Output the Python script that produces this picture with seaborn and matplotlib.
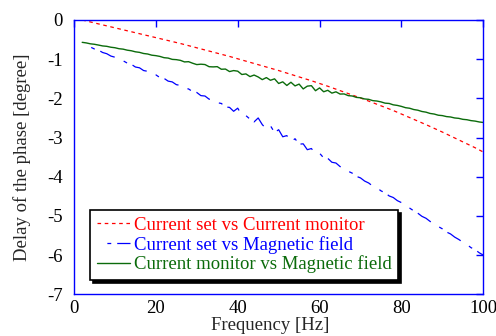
import numpy as np
import pandas as pd
import matplotlib
matplotlib.use("Agg")
import matplotlib.pyplot as plt
import seaborn as sns

# ---------------- data ----------------
freq = list(range(2, 101))

freq_red = [2, 6, 10, 14, 18, 22, 26, 30, 34, 38, 42, 46, 50, 54, 58, 62,
            66, 70, 74, 78, 82, 86, 90, 94, 98, 100]
set_vs_monitor = [0.00, -0.10, -0.20, -0.30, -0.40, -0.50, -0.60, -0.71, -0.82,
                  -0.93, -1.05, -1.17, -1.29, -1.42, -1.55, -1.69, -1.84, -1.99,
                  -2.15, -2.31, -2.49, -2.67, -2.86, -3.06, -3.26, -3.37]

set_vs_field = [
    -0.60, -0.65, -0.69, -0.74, -0.77, -0.83, -0.86, -0.92, -0.95, -1.01,
    -1.04, -1.10, -1.13, -1.20, -1.22, -1.29, -1.31, -1.38, -1.40, -1.47,
    -1.49, -1.56, -1.58, -1.65, -1.67, -1.74, -1.76, -1.83, -1.85, -1.93,
    -1.94, -2.02, -2.04, -2.11, -2.13, -2.22, -2.23, -2.33, -2.25, -2.43,
    -2.44, -2.53, -2.60, -2.50, -2.67, -2.78, -2.70, -2.87, -2.80, -2.98,
    -2.95, -3.11, -3.03, -3.17, -3.16, -3.31, -3.28, -3.41, -3.40, -3.52,
    -3.53, -3.63, -3.65, -3.74, -3.78, -3.86, -3.91, -3.99, -4.03, -4.11,
    -4.16, -4.24, -4.28, -4.36, -4.41, -4.49, -4.53, -4.61, -4.66, -4.74,
    -4.80, -4.87, -4.93, -5.01, -5.06, -5.14, -5.20, -5.27, -5.33, -5.41,
    -5.46, -5.54, -5.60, -5.67, -5.73, -5.81, -5.86, -5.94, -6.00]

monitor_vs_field = [
    -0.570, -0.585, -0.608, -0.620, -0.640, -0.662, -0.672, -0.695, -0.708, -0.733,
    -0.744, -0.770, -0.785, -0.812, -0.826, -0.855, -0.868, -0.898, -0.910, -0.930,
    -0.962, -0.972, -1.005, -1.012, -1.030, -1.070, -1.064, -1.104, -1.138, -1.128,
    -1.137, -1.192, -1.197, -1.191, -1.257, -1.252, -1.316, -1.291, -1.306, -1.391,
    -1.376, -1.445, -1.405, -1.454, -1.522, -1.470, -1.538, -1.502, -1.620, -1.578,
    -1.671, -1.589, -1.682, -1.636, -1.759, -1.688, -1.676, -1.805, -1.733, -1.832,
    -1.794, -1.866, -1.833, -1.890, -1.887, -1.930, -1.940, -1.975, -1.985, -2.015,
    -2.025, -2.058, -2.068, -2.090, -2.122, -2.130, -2.165, -2.180, -2.205, -2.238,
    -2.252, -2.285, -2.302, -2.335, -2.352, -2.385, -2.400, -2.430, -2.440, -2.465,
    -2.475, -2.500, -2.510, -2.535, -2.545, -2.568, -2.580, -2.602, -2.615]

labels = ["Current set vs Current monitor",
          "Current set vs Magnetic field",
          "Current monitor vs Magnetic field"]
xticks = [0, 20, 40, 60, 80, 100]
yticks = [0, -1, -2, -3, -4, -5, -6, -7]

# ---------------- style ----------------
sns.set_style("white")
plt.rcParams["font.family"] = ["Liberation Serif", "DejaVu Serif"]
plt.rcParams["axes.unicode_minus"] = False
plt.rcParams["lines.scale_dashes"] = False

fig = plt.figure(figsize=(4.96, 3.36), dpi=100)
ax = fig.add_axes([0.1492, 0.1241, 0.8252, 0.8164])

df_red = pd.DataFrame({"f": freq_red, "v": set_vs_monitor})
df_blue = pd.DataFrame({"f": freq, "v": set_vs_field})
df_green = pd.DataFrame({"f": freq, "v": monitor_vs_field})

sns.lineplot(data=df_red, x="f", y="v", ax=ax, color="#ff0000", lw=0.9,
             linestyle=(0, (2.6, 2.6)), label=labels[0])
sns.lineplot(data=df_blue, x="f", y="v", ax=ax, color="#0000ff", lw=0.9,
             linestyle=(18.4, (2.8, 4.3, 11.3, 7.1)), label=labels[1])
sns.lineplot(data=df_green, x="f", y="v", ax=ax, color="#0b6b0b", lw=1.0,
             linestyle="-", label=labels[2])

ax.set_xlim(0, 100)
ax.set_ylim(-7, 0)
ax.set_xticks(xticks)
ax.set_yticks(yticks)
ax.set_xticklabels([str(t) for t in xticks])
ax.set_yticklabels([str(t) for t in yticks])

for sp in ax.spines.values():
    sp.set_color("#0000ff")
    sp.set_linewidth(1.0)
    sp.set_visible(True)

ax.tick_params(axis="both", which="major", direction="in", length=5, width=1,
               color="#0000ff", labelsize=13.5, labelcolor="black",
               top=True, right=True)
ax.tick_params(axis="x", pad=4)
ax.tick_params(axis="y", pad=8)

ax.set_xlabel("Frequency [Hz]", fontsize=13.5, labelpad=0)
ax.xaxis.label.set_x(0.48)
ax.set_ylabel("Delay of the phase [degree]", fontsize=13.5, labelpad=12)

leg = ax.legend(loc="lower left", bbox_to_anchor=(0.039, 0.052),
                borderaxespad=0, fontsize=13.5, frameon=True, fancybox=False,
                shadow={"color": "black", "alpha": 1.0},
                handlelength=1.8, handletextpad=0.2, labelspacing=0.1,
                borderpad=0.35, labelcolor="linecolor")
leg.get_frame().set_edgecolor("black")
leg.get_frame().set_linewidth(1.2)
leg.get_frame().set_facecolor("white")
leg.get_frame().set_alpha(1.0)

fig.savefig("out.png", dpi=100)
